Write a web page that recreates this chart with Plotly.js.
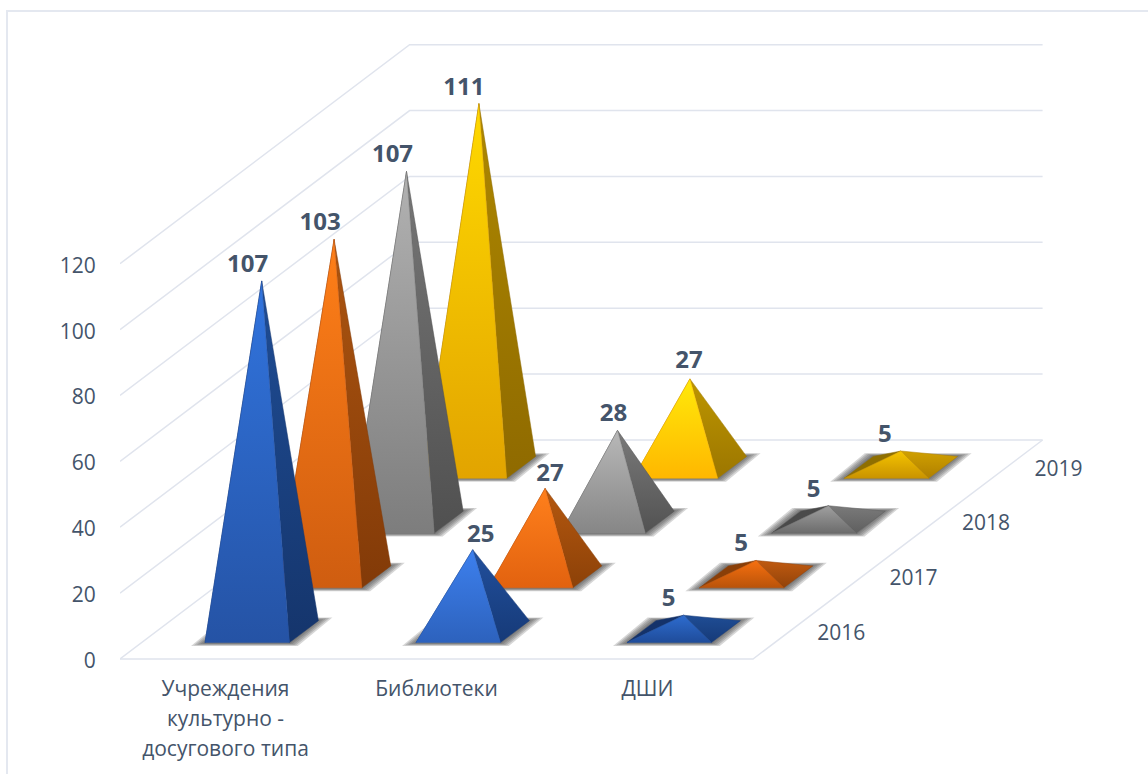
<!DOCTYPE html>
<html><head><meta charset="utf-8">
<script src="https://cdn.plot.ly/plotly-3.0.1.min.js"></script>
<style>
html,body{margin:0;padding:0;background:#fff;overflow:hidden}
#frame{position:absolute;left:6px;top:10px;right:-4px;bottom:-4px;border:2px solid #e4e8f0}
#chart{position:absolute;left:0;top:0;width:1148px;height:774px}
</style></head><body>
<div id="frame"></div><div id="chart"></div>
<script>
// ---- data ----
const categoryLines = [["Учреждения","культурно -","досугового типа"],["Библиотеки"],["ДШИ"]];
const years = ["2016","2017","2018","2019"];
const values2016 = [107,25,5];
const values2017 = [103,27,5];
const values2018 = [107,28,5];
const values2019 = [111,27,5];
const valueTicks = [0,20,40,60,80,100,120];

// ---- chart geometry (3-D oblique box) ----
const W=1148,H=774,LEFT=120,FLOORY=659;
const PX_CAT=211, PX_VAL=3.294, PX_ROWX=72.4, PX_ROWY=54.75, MARK_SCALE=0.995;
const ROWX=PX_ROWX/PX_CAT, ROWY=PX_ROWY/PX_VAL;
const P=(cat,row,val)=>[cat+row*ROWX, val+row*ROWY];
const GRID='#e0e4ed', TEXT='#44546a', FONT='"Open Sans","Noto Sans",sans-serif';

// shade = [top,bottom,sideTop,sideBottom,leftFace]
const palette=[
 {tall:['#3174de','#2553a5','#1f4d95','#15356c','#15356c'],mid:['#3d80ee','#2d62bd','#214f9c','#163a78','#163a78'],flat:['#2d6ccf','#1f4c9a','#1f4d95','#163a78','#14326a']},
 {tall:['#ff7f18','#cf5d10','#ad5510','#823a08','#823a08'],mid:['#ff801c','#e2620f','#b5580f','#8c4108','#8c4108'],flat:['#f7700f','#b9530a','#c05a10','#92430a','#8a3f08']},
 {tall:['#b2b2b2','#7d7d7d','#777777','#505050','#505050'],mid:['#b8b8b8','#868686','#7a7a7a','#525252','#525252'],flat:['#a0a0a0','#6c6c6c','#7a7a7a','#5f5f5f','#4a4a4a']},
 {tall:['#ffd900','#e2a400','#ae8800','#8f6a00','#8f6a00'],mid:['#ffe90a','#ffb700','#bd9600','#9c7600','#9c7600'],flat:['#f5c400','#c99300','#d0a000','#b08000','#8f6f00']}
];
const tier=v=>v>=60?'tall':(v>=15?'mid':'flat');

// label nudges in px, as placed in the picture
const labelNudgeX=[[-14,8,-15],[-14,5,-15],[-14,-4,-15],[-15,-1,-16]];
const labelNudgeY=[[15,14,15],[15,13,15],[15,15,15],[15,17,15]];

const traces=[];
function poly(pts,opts){
  traces.push(Object.assign({type:'scatter',mode:'lines',x:pts.map(p=>p[0]).concat(pts[0][0]),y:pts.map(p=>p[1]).concat(pts[0][1]),fill:'toself',hoverinfo:'skip',showlegend:false},opts));
}
function line(pts){
  traces.push({type:'scatter',mode:'lines',x:pts.map(p=>p[0]),y:pts.map(p=>p[1]),line:{color:GRID,width:1.5},hoverinfo:'skip',showlegend:false});
}
// walls and floor
valueTicks.forEach(v=>{
  line([P(0,0,v),P(0,4,v),P(3,4,v)]);
});
line([P(0,0,0),P(3,0,0),P(3,4,0)]);

const series=[values2016,values2017,values2018,values2019];
function face(pts,top,bottom){
  poly(pts,{line:{width:0.5,color:bottom},fillgradient:{type:'vertical',colorscale:[[0,bottom],[1,top]]}});
}
for(let r=3;r>=0;r--){
  for(let c=0;c<3;c++){
    const v=series[r][c]*MARK_SCALE, s=palette[r][tier(v)];
    const FL=P(c+.3,r+.3,0),FR=P(c+.7,r+.3,0),BR=P(c+.7,r+.7,0),BL=P(c+.3,r+.7,0),A=P(c+.5,r+.5,v);
    // soft shadow on the floor
    [14,11,8,5,2].forEach(e=>{
      const ex=e/PX_CAT, ey=(0.5+e*0.2)/PX_VAL;
      poly([[FL[0]-ex,FL[1]-ey],[FR[0]+ex*.6,FR[1]-ey],[BR[0]+ex,BR[1]+ey],[BL[0]-ex*.6,BL[1]+ey]],
        {line:{width:0},fillcolor:'rgba(70,70,70,0.22)'});
    });
    poly([FL,BL,A],{line:{width:0.5,color:s[4]},fillcolor:s[4]});
    face([FR,BR,A],s[2],s[3]);
    face([FL,FR,A],s[0],s[1]);
  }
}
// value labels
const lx=[],ly=[],lt=[];
series.forEach((vals,r)=>vals.forEach((v,c)=>{
  const A=P(c+.5,r+.5,v*MARK_SCALE);
  lx.push(A[0]+labelNudgeX[r][c]/PX_CAT); ly.push(A[1]+labelNudgeY[r][c]/PX_VAL); lt.push(String(v));
}));
traces.push({type:'scatter',mode:'text',x:lx,y:ly,text:lt,textposition:'middle center',textfont:{family:FONT,size:24,color:TEXT,weight:700},hoverinfo:'skip',showlegend:false,cliponaxis:false});
// depth labels
const dOff=52/PX_CAT, dRaise=-3/PX_VAL;
traces.push({type:'scatter',mode:'text',x:years.map((y,r)=>P(3,r+.5,0)[0]+dOff),y:years.map((y,r)=>P(3,r+.5,0)[1]+dRaise),text:years,textposition:'middle center',textfont:{family:FONT,size:21,color:TEXT},hoverinfo:'skip',showlegend:false});
// category labels
const cx=[],cy=[],ct=[];
categoryLines.forEach((ls,c)=>ls.forEach((t,i)=>{cx.push(c+.5);cy.push(-(31.5+30*i)/PX_VAL);ct.push(t);}));
traces.push({type:'scatter',mode:'text',x:cx,y:cy,text:ct,textposition:'middle center',textfont:{family:FONT,size:21,color:TEXT},hoverinfo:'skip',showlegend:false});

const layout={
  width:W,height:H,margin:{l:LEFT,r:0,t:0,b:0,pad:0},
  paper_bgcolor:'rgba(0,0,0,0)',plot_bgcolor:'rgba(0,0,0,0)',showlegend:false,
  xaxis:{range:[0,(W-LEFT)/PX_CAT],visible:false,fixedrange:true},
  yaxis:{range:[-(H-FLOORY)/PX_VAL,FLOORY/PX_VAL],tickmode:'array',tickvals:valueTicks.map(v=>v-0.5),ticktext:valueTicks.map(String),
    showgrid:false,zeroline:false,showline:false,ticks:'outside',ticklen:19,tickcolor:'rgba(0,0,0,0)',
    tickfont:{family:FONT,size:21,color:TEXT},fixedrange:true}
};
Plotly.newPlot('chart',traces,layout,{displayModeBar:false,staticPlot:true});
</script></body></html>
